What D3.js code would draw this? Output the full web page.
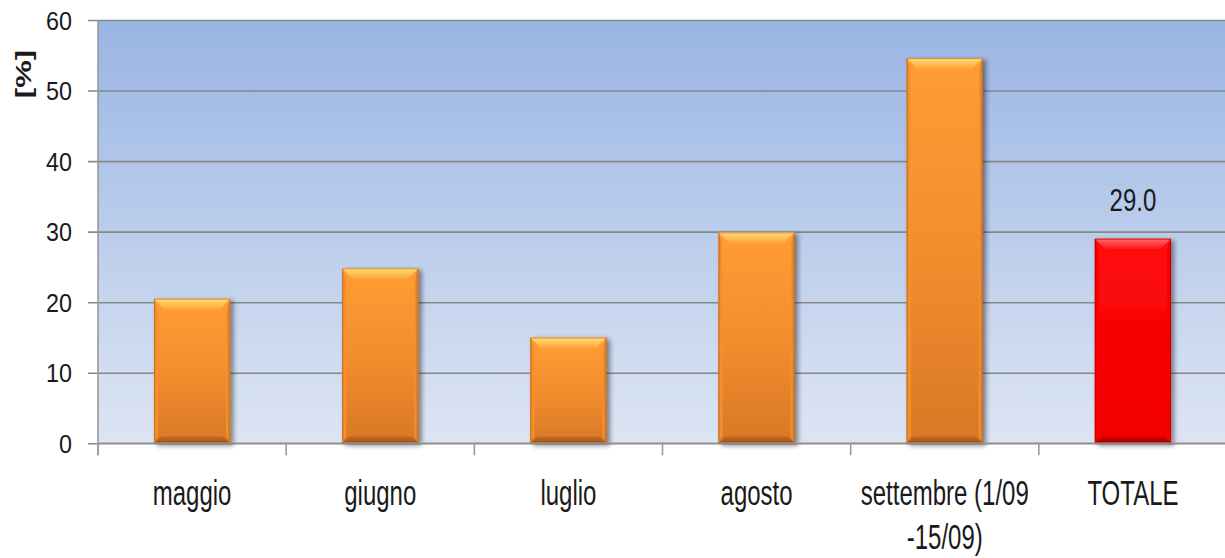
<!DOCTYPE html>
<html><head><meta charset="utf-8">
<script src="https://cdn.jsdelivr.net/npm/d3@7"></script>
<style>html,body{margin:0;padding:0;background:#fff;}svg{display:block;}</style>
</head><body>
<svg id="c" width="1225" height="558"></svg>
<script>
const categories = ["maggio","giugno","luglio","agosto","settembre (1/09 -15/09)","TOTALE"];
const values = [20.5, 24.8, 15.0, 29.9, 54.6, 29.0];
const yTicks = [0,10,20,30,40,50,60];
const labelIndex = 5; // only TOTALE has a data label
const yTitle = "[%]";

const svg = d3.select("#c");
const defs = svg.append("defs");
const pLeft = 98, pRight = 1227, pTop = 20, pBottom = 443.3;
const font = "'Liberation Sans', Arial, sans-serif";

const x = d3.scaleBand().domain(categories).range([pLeft, pRight]).paddingInner(0.595).paddingOuter(0.2975);
const y = d3.scaleLinear().domain([0,60]).range([pBottom, pTop]);

function lg(id, stops, x1=0,y1=0,x2=0,y2=1){
  const g = defs.append("linearGradient").attr("id",id).attr("x1",x1).attr("y1",y1).attr("x2",x2).attr("y2",y2);
  stops.forEach(s=>g.append("stop").attr("offset",s[0]).attr("stop-color",s[1]));
}
lg("bg",[[0,"#99b5e4"],[1,"#dde5f3"]]);
lg("oMain",[[0,"#ff9d33"],[0.5,"#f38e2e"],[1,"#d97826"]]);
lg("oTop",[[0,"#ffe07a"],[1,"#ffa236"]]);
lg("oBot",[[0,"#c86c22"],[1,"#98521a"]]);
lg("oSideL",[[0,"#e2842b"],[1,"#f8962f"]],0,0,1,0);
lg("oSideR",[[0,"#f8962f"],[1,"#d27628"]],0,0,1,0);
lg("rMain",[[0,"#ff0a0a"],[1,"#f20000"]]);
lg("rTop",[[0,"#ff6a6a"],[1,"#ff1010"]]);
lg("rBot",[[0,"#d80000"],[1,"#a80000"]]);
lg("rSideL",[[0,"#e60000"],[1,"#ff0000"]],0,0,1,0);
lg("rSideR",[[0,"#ff0000"],[1,"#dc0000"]],0,0,1,0);

const f = defs.append("filter").attr("id","sh").attr("x","-20%").attr("y","-20%").attr("width","150%").attr("height","150%");
f.append("feGaussianBlur").attr("in","SourceAlpha").attr("stdDeviation",2.5).attr("result","b");
f.append("feOffset").attr("in","b").attr("dx",3).attr("dy",2).attr("result","o");
f.append("feComponentTransfer").attr("in","o").attr("result","o2").append("feFuncA").attr("type","linear").attr("slope",0.45);
const m = f.append("feMerge"); m.append("feMergeNode").attr("in","o2"); m.append("feMergeNode").attr("in","SourceGraphic");

// background
svg.append("rect").attr("x",pLeft).attr("y",pTop).attr("width",pRight-pLeft).attr("height",pBottom-pTop).attr("fill","url(#bg)");

// gridlines + y ticks
const yAxis = d3.axisLeft(y).tickValues(yTicks).tickSize(-(pRight-pLeft)).tickPadding(0).tickFormat(d3.format("d"));
const ya = svg.append("g").attr("transform",`translate(${pLeft},0)`).call(yAxis);
ya.select(".domain").remove();
ya.selectAll(".tick line").attr("stroke","#878787").attr("stroke-width",1.6).attr("x2",pRight-pLeft).attr("x1",-10);
ya.selectAll(".tick text").remove();
svg.append("g").selectAll("text").data(yTicks).join("text")
  .attr("transform",d=>`translate(72,${y(d)+9.5}) scale(0.88,1)`)
  .attr("text-anchor","end").attr("font-family",font).attr("font-size",26.5).attr("fill","#1a1a1a")
  .text(d=>d);

// bars
const bw = x.bandwidth();
const bars = svg.append("g").selectAll("g").data(categories).join("g").attr("filter","url(#sh)");
bars.each(function(c,i){
  const g = d3.select(this);
  const p = i===labelIndex ? "r" : "o";
  const x0 = x(c), x1 = x0+bw, y0 = y(values[i]), y1 = y(0);
  const bt = 11, bb = 7, bs = 4;
  g.append("rect").attr("x",x0).attr("y",y0).attr("width",bw).attr("height",y1-y0).attr("fill",`url(#${p}Main)`);
  g.append("polygon").attr("points",`${x0},${y0} ${x0+bs},${y0+bt} ${x0+bs},${y1-bb} ${x0},${y1}`).attr("fill",`url(#${p}SideL)`);
  g.append("polygon").attr("points",`${x1},${y0} ${x1-bs},${y0+bt} ${x1-bs},${y1-bb} ${x1},${y1}`).attr("fill",`url(#${p}SideR)`);
  g.append("polygon").attr("points",`${x0},${y0} ${x1},${y0} ${x1-bt},${y0+bt} ${x0+bt},${y0+bt}`).attr("fill",`url(#${p}Top)`);
  g.append("polygon").attr("points",`${x0},${y1} ${x1},${y1} ${x1-bb},${y1-bb} ${x0+bb},${y1-bb}`).attr("fill",`url(#${p}Bot)`);
  g.append("rect").attr("x",x0+0.5).attr("y",y0+0.5).attr("width",bw-1).attr("height",y1-y0-1)
    .attr("fill","none").attr("stroke", p==="r" ? "#c80000" : "#c46a22").attr("stroke-width",1).attr("stroke-opacity",0.7);
});

// axes lines
svg.append("line").attr("x1",pLeft).attr("x2",pRight).attr("y1",pBottom).attr("y2",pBottom).attr("stroke","#8f8f8f").attr("stroke-width",1.6);
svg.append("line").attr("x1",pLeft).attr("x2",pLeft).attr("y1",pTop).attr("y2",pBottom+12).attr("stroke","#9a9a9a").attr("stroke-width",1.6);
const step = x.step();
const bounds = d3.range(categories.length+1).map(k => pLeft + k*step);
svg.append("g").selectAll("line").data(bounds).join("line")
  .attr("x1",d=>d).attr("x2",d=>d).attr("y1",pBottom).attr("y2",pBottom+12).attr("stroke","#9a9a9a").attr("stroke-width",1.6);

// x labels
const xl = svg.append("g");
categories.forEach(c=>{
  const lines = c.includes(" -") ? [c.slice(0,c.indexOf(" -")), c.slice(c.indexOf(" -")+1)] : [c];
  lines.forEach((t,k)=>{
    xl.append("text").attr("transform",`translate(${x(c)+bw/2},${505+k*44}) scale(0.8,1.15)`)
      .attr("text-anchor","middle").attr("font-family",font).attr("font-size",30).attr("fill","#1a1a1a").text(t);
  });
});

// data label
svg.append("text").attr("transform",`translate(${x(categories[labelIndex])+bw/2},${y(values[labelIndex])-28}) scale(0.8,1.07)`)
  .attr("text-anchor","middle").attr("font-family",font).attr("font-size",30).attr("fill","#1a1a1a")
  .text(d3.format(".1f")(values[labelIndex]));

// y title
svg.append("text").attr("transform","translate(31,74) rotate(-90) scale(1.38,1)")
  .attr("text-anchor","middle").attr("font-family",font).attr("font-weight","bold").attr("font-size",22.5).attr("fill","#1a1a1a")
  .text(yTitle);
</script>
</body></html>
